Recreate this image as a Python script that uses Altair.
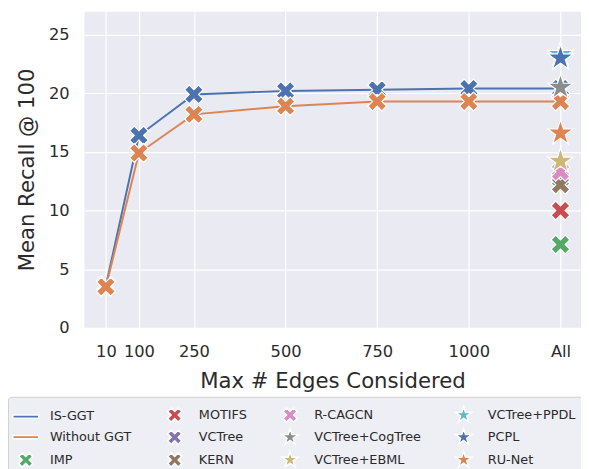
import math
import altair as alt
import pandas as pd

# ---------------- data ----------------
edge_positions = [10, 100, 250, 500, 750, 1000, 1250]
edge_labels = ["10", "100", "250", "500", "750", "1000", "All"]

is_ggt = [3.6, 16.4, 19.9, 20.2, 20.3, 20.4, 20.4]
without_ggt = [3.5, 14.9, 18.2, 18.9, 19.3, 19.3, 19.3]

baseline_names = ["IMP", "MOTIFS", "VCTree", "KERN", "R-CAGCN",
                  "VCTree+CogTree", "VCTree+EBML", "VCTree+PPDL", "PCPL", "RU-Net"]
baseline_values = [7.1, 10.0, 12.7, 12.2, 13.3, 20.5, 14.2, 23.3, 23.0, 16.6]
baseline_x = ["All"] * len(baseline_names)
baseline_marker = ["X", "X", "X", "X", "X", "star", "star", "star", "star", "star"]

series_names = ["IS-GGT", "Without GGT"]

# legend order (filled column by column, 3 rows)
legend_order = series_names + baseline_names

# ---------------- styles ----------------
palette = {
    "IS-GGT": "#4c72b0", "Without GGT": "#dd8452", "IMP": "#55a868",
    "MOTIFS": "#c44e52", "VCTree": "#8172b3", "KERN": "#937860",
    "R-CAGCN": "#da8bc3", "VCTree+CogTree": "#8c8c8c", "VCTree+EBML": "#ccb974",
    "VCTree+PPDL": "#64b5cd", "PCPL": "#4c72b0", "RU-Net": "#dd8452",
}


def poly_path(pts):
    return "M" + " L".join(f"{x:.3f},{y:.3f}" for x, y in pts) + " Z"


ax = 0.65
x_pts = [(-1, -2), (0, -1), (1, -2), (2, -1), (1, 0), (2, 1),
         (1, 2), (0, 1), (-1, 2), (-2, 1), (-1, 0), (-2, -1)]
X_PATH = poly_path([(px / 2 * ax, py / 2 * ax) for px, py in x_pts])

R = 0.78
star_pts = []
for k in range(10):
    ang = math.pi / 2 + k * math.pi / 5
    rad = R if k % 2 == 0 else R * 0.381966
    star_pts.append((rad * math.cos(ang), -rad * math.sin(ang)))
STAR_PATH = poly_path(star_pts)
LINE_PATH = "M-1.2,-0.15 H1.2 V0.15 H-1.2 Z"

paths = {"X": X_PATH, "star": STAR_PATH, "line": LINE_PATH}
marker_kind = dict(zip(series_names, ["line", "line"]))
marker_kind.update(dict(zip(baseline_names, baseline_marker)))

X_SIZE = 853
STAR_SIZE = 1200

pos_of = dict(zip(edge_labels, edge_positions))

df_is = pd.DataFrame({"x": edge_positions, "y": is_ggt, "series": series_names[0]})
df_wo = pd.DataFrame({"x": edge_positions, "y": without_ggt, "series": series_names[1]})
df_base = pd.DataFrame({"method": baseline_names,
                        "x": [pos_of[v] for v in baseline_x],
                        "y": baseline_values,
                        "marker": baseline_marker})

FONT = "DejaVu Sans"
TXT = "#2b2b2b"

label_expr = f"'{edge_labels[-1]}'"
for p, l in reversed(list(zip(edge_positions[:-1], edge_labels[:-1]))):
    label_expr = f"datum.value == {p} ? '{l}' : ({label_expr})"

x_enc = alt.X("x:Q", scale=alt.Scale(domain=[-50, 1306], nice=False, zero=False),
              axis=alt.Axis(values=edge_positions, labelExpr=label_expr,
                            title="Max # Edges Considered", grid=True,
                            gridColor="white", gridWidth=1.2, domain=False, ticks=False,
                            labelFontSize=16.5, labelPadding=16, labelColor=TXT,
                            labelOverlap=False, labelFlush=False,
                            titleFontSize=21.5, titleFontWeight="normal",
                            titleColor=TXT, titlePadding=11))
y_enc = alt.Y("y:Q", scale=alt.Scale(domain=[0, 27], nice=False, zero=False),
              axis=alt.Axis(values=[0, 5, 10, 15, 20, 25], title="Mean Recall @ 100",
                            grid=True, gridColor="white", gridWidth=1.2, domain=False,
                            ticks=False, labelFontSize=16.5, labelPadding=15,
                            labelColor=TXT, titleFontSize=21.5,
                            titleFontWeight="normal", titleColor=TXT, titlePadding=10))


def series_layers(df, color):
    line = alt.Chart(df).mark_line(color=color, strokeWidth=2).encode(x=x_enc, y=y_enc)
    pts = alt.Chart(df).mark_point(filled=True, shape=X_PATH, size=X_SIZE, fill=color,
                                   stroke="white", strokeWidth=1.2, opacity=1
                                   ).encode(x=x_enc, y=y_enc)
    return [line, pts]


legend_kw = dict(orient="none", legendX=-77, legendY=391, columns=4, title=None,
                 symbolSize=480, labelOffset=12.5, columnPadding=31, rowPadding=0,
                 padding=6, fillColor="#eeeef5", strokeColor="#d0d0d0",
                 cornerRadius=3, labelFont=FONT, labelFontSize=13, labelColor=TXT,
                 labelLimit=200)

color_enc = alt.Color("method:N",
                      scale=alt.Scale(domain=legend_order,
                                      range=[palette[n] for n in legend_order]),
                      legend=alt.Legend(**legend_kw))
shape_enc = alt.Shape("method:N",
                      scale=alt.Scale(domain=legend_order,
                                      range=[paths[marker_kind[n]] for n in legend_order]),
                      legend=alt.Legend(**legend_kw))

base_x = alt.Chart(df_base).transform_filter(alt.datum.marker == "X").mark_point(
    filled=True, size=X_SIZE, stroke="white", strokeWidth=1.2, opacity=1).encode(
    x=x_enc, y=y_enc, color=color_enc, shape=shape_enc)
base_star = alt.Chart(df_base).transform_filter(alt.datum.marker == "star").mark_point(
    filled=True, size=STAR_SIZE, stroke="white", strokeWidth=1.2, opacity=1).encode(
    x=x_enc, y=y_enc, color=color_enc, shape=shape_enc)

layers = (series_layers(df_is, palette["IS-GGT"]) +
          series_layers(df_wo, palette["Without GGT"]) + [base_x, base_star])

chart = alt.layer(*layers).properties(
    width=504, height=321,
    autosize=alt.AutoSizeParams(type="none"),
    padding={"left": 77, "top": 0, "right": 0, "bottom": 140},
).configure(font=FONT).configure_view(fill="#eaeaf2", stroke="transparent")

chart.save("out.html", embed_options={"renderer": "svg", "actions": False})
